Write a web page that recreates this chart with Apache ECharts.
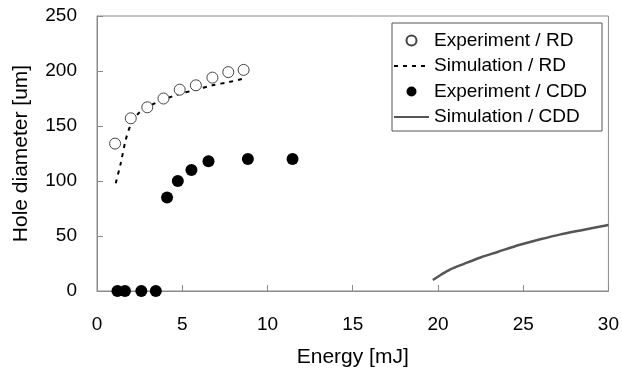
<!DOCTYPE html>
<html>
<head>
<meta charset="utf-8">
<script src="https://cdn.jsdelivr.net/npm/echarts@6/dist/echarts.min.js"></script>
<style>
  html, body { margin: 0; padding: 0; background: #fff; }
  #chart { width: 622px; height: 374px; }
</style>
</head>
<body>
<div id="chart"></div>
<script>
// values
const expRD = [[1.06, 134], [1.98, 157], [2.95, 167], [3.9, 175], [4.85, 183],
  [5.8, 187], [6.77, 194], [7.7, 199], [8.6, 201]]
const simRD = [[1.1, 98], [1.39, 116], [1.68, 137], [1.98, 151], [2.47, 162],
  [3.44, 171], [4.62, 178], [5.8, 183], [6.77, 187], [7.75, 190], [8.6, 193]]
const expCDD = [[1.2, 0], [1.64, 0], [2.6, 0], [3.45, 0], [4.11, 85], [4.74, 100],
  [5.54, 110], [6.54, 118], [8.85, 120], [11.47, 120]]
const simCDD = [[19.7, 10], [20.2, 15], [20.7, 19.5], [21.5, 24.5], [22.5, 30.5],
  [23.5, 35.5], [24.8, 42], [26, 47], [27.2, 51.5], [28.5, 55.5], [30, 60]]

const font = 'Liberation Sans, Arial, sans-serif'
const frameColor = '#8a8a8a'

const chart = echarts.init(document.getElementById('chart'))
chart.setOption({
  animation: false,
  backgroundColor: '#fff',
  grid: {
    left: 97, right: 13, top: 16, bottom: 83,
    show: true, borderColor: frameColor, borderWidth: 1
  },
  graphic: [{
    type: 'rect',
    shape: { x: 392, y: 23, width: 210, height: 108 },
    style: { fill: '#fff', stroke: '#555', lineWidth: 1 },
    z: 5
  }],
  legend: {
    orient: 'vertical',
    left: 393,
    top: 31,
    padding: 0,
    itemWidth: 35,
    itemHeight: 10,
    itemGap: 6.5,
    z: 10,
    textStyle: { fontFamily: font, fontSize: 19, color: '#000', lineHeight: 19 },
    data: ['Experiment / RD', 'Simulation / RD', 'Experiment / CDD', 'Simulation / CDD']
  },
  xAxis: {
    type: 'value',
    min: 0, max: 30, interval: 5,
    name: 'Energy [mJ]',
    nameLocation: 'middle',
    nameGap: 56,
    nameTextStyle: { fontFamily: font, fontSize: 21, color: '#000' },
    axisLine: { show: true, lineStyle: { color: frameColor } },
    axisTick: { show: true, inside: true, length: 6, lineStyle: { color: frameColor } },
    axisLabel: { fontFamily: font, fontSize: 19, color: '#000', margin: 24 },
    splitLine: { show: false }
  },
  yAxis: {
    type: 'value',
    min: 0, max: 250, interval: 50,
    name: 'Hole diameter [um]',
    nameLocation: 'middle',
    nameGap: 65,
    nameTextStyle: { fontFamily: font, fontSize: 21, color: '#000' },
    axisLine: { show: true, lineStyle: { color: frameColor } },
    axisTick: { show: true, inside: true, length: 6, lineStyle: { color: frameColor } },
    axisLabel: { fontFamily: font, fontSize: 19, color: '#000', margin: 20 },
    splitLine: { show: false }
  },
  series: [{
    name: 'Experiment / RD',
    type: 'scatter',
    data: expRD,
    symbol: 'circle',
    symbolSize: 11,
    itemStyle: { color: '#fff', borderColor: '#444', borderWidth: 1, opacity: 1 },
    z: 3
  }, {
    name: 'Simulation / RD',
    type: 'line',
    data: simRD,
    symbol: 'none',
    smooth: 0.3,
    itemStyle: { color: 'rgba(0,0,0,0)', opacity: 0 },
    lineStyle: { color: '#000', width: 2, type: [4, 5] },
    z: 2
  }, {
    name: 'Experiment / CDD',
    type: 'scatter',
    data: expCDD,
    symbol: 'circle',
    symbolSize: 12,
    itemStyle: { color: '#000', opacity: 1 },
    z: 3
  }, {
    name: 'Simulation / CDD',
    type: 'line',
    data: simCDD,
    symbol: 'none',
    smooth: 0.3,
    itemStyle: { color: 'rgba(0,0,0,0)', opacity: 0 },
    lineStyle: { color: '#555', width: 2.5 },
    z: 2
  }]
})
</script>
</body>
</html>
